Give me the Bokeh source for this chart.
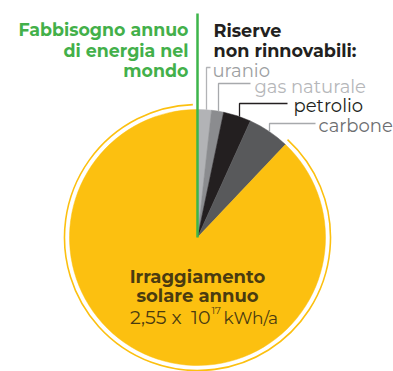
import numpy as np
from bokeh.plotting import figure
from bokeh.models import Range1d
from bokeh.core.properties import value
from bokeh.embed import file_html
from bokeh.resources import INLINE

# Shares of the circle, in degrees
categories = ["uranio", "gas naturale", "petrolio", "carbone", "Irraggiamento solare annuo"]
shares = [6.3, 5.5, 12.6, 19.0, 316.6]
colors = ["#b2b3b6", "#8b8c8f", "#231f20", "#58595b", "#fcc010"]

label_texts = ["uranio", "gas naturale", "petrolio", "carbone"]
label_colors = ["#9d9fa2", "#b6b7ba", "#231f20", "#6d6e71"]
leader_colors = ["#b2b3b6", "#a7a9ac", "#231f20", "#a7a9ac"]

W, H = 393, 371
FONT = "Montserrat, 'Open Sans'"
CAPTION = "#4a3b10"


def Y(y):
    return H - y


p = figure(width=W, height=H, x_range=Range1d(0, W), y_range=Range1d(0, H),
           output_backend="svg", toolbar_location=None, min_border=0,
           background_fill_color="white", border_fill_color="white")
p.axis.visible = False
p.grid.visible = False
p.outline_line_color = None

cx, cy = 197, Y(237)
R, R_ring = 128, 133

ang = np.radians(np.array(shares))
cum = np.concatenate([[0], np.cumsum(ang)])
starts = np.pi / 2 - cum[:-1]
ends = np.pi / 2 - cum[1:]

p.wedge(x=[cx] * len(shares), y=[cy] * len(shares), radius=R,
        start_angle=list(starts), end_angle=list(ends), direction="clock",
        fill_color=colors, line_color=colors, line_width=0.5)

# thin halo around the solar share
p.arc(x=cx, y=cy, radius=R_ring, start_angle=np.pi / 2 + np.radians(2.0),
      end_angle=starts[-1] + np.radians(0.8), direction="anticlock",
      line_color="#fcc010", line_width=1.6)

# annual world energy demand: a hairline up from the centre
p.segment(x0=cx, y0=cy, x1=cx, y1=Y(13), line_color="#3db54a", line_width=2.5)

# leader lines from the wedges to their labels
lead_x = [206, 218, 239, 269]
lead_top = [67, 83, 103, 123]
lead_end = [210, 250, 287, 315]
for lx, lt, le, c in zip(lead_x, lead_top, lead_end, leader_colors):
    y_edge = cy + np.sqrt(R ** 2 - (lx - cx) ** 2)
    p.line(x=[lx, lx, le], y=[y_edge, Y(lt), Y(lt)], line_color=c, line_width=1.3)

lab_x = [212, 254, 293, 318]
lab_y = [70, 86, 105, 125]
p.text(x=lab_x, y=[Y(v) for v in lab_y], text=label_texts, text_color=label_colors,
       text_font=value(FONT), text_font_size="18px", text_baseline="alphabetic",
       text_align="left")

# headings
p.text(x=[188] * 3, y=[Y(29), Y(50), Y(70)],
       text=["Fabbisogno annuo", "di energia nel", "mondo"],
       text_color="#43b04a", text_font=value(FONT), text_font_size="17.4px",
       text_font_style="bold", text_baseline="alphabetic", text_align="right")
p.text(x=[213] * 2, y=[Y(30), Y(50)], text=["Riserve", "non rinnovabili:"],
       text_color="#231f20", text_font=value(FONT), text_font_size="17.6px",
       text_font_style="bold", text_baseline="alphabetic", text_align="left")

# solar caption
p.text(x=[197] * 2, y=[Y(276), Y(295)], text=["Irraggiamento", "solare annuo"],
       text_color=CAPTION, text_font=value(FONT), text_font_size="18px",
       text_font_style="bold", text_baseline="alphabetic", text_align="center")
p.text(x=[166, 176, 210], y=[Y(317)] * 3, text=["2,55", "x", "10"],
       text_align=["right", "center", "right"], text_color=CAPTION,
       text_font=value(FONT), text_font_size="19px", text_baseline="alphabetic")
p.text(x=[211], y=[Y(310)], text=["17"], text_color=CAPTION,
       text_font=value(FONT), text_font_size="10px", text_baseline="alphabetic",
       text_align="left")
p.text(x=[223], y=[Y(317)], text=["kWh/a"], text_color=CAPTION,
       text_font=value(FONT), text_font_size="17px", text_baseline="alphabetic",
       text_align="left")

open("out.html", "w").write(file_html(p, INLINE))
